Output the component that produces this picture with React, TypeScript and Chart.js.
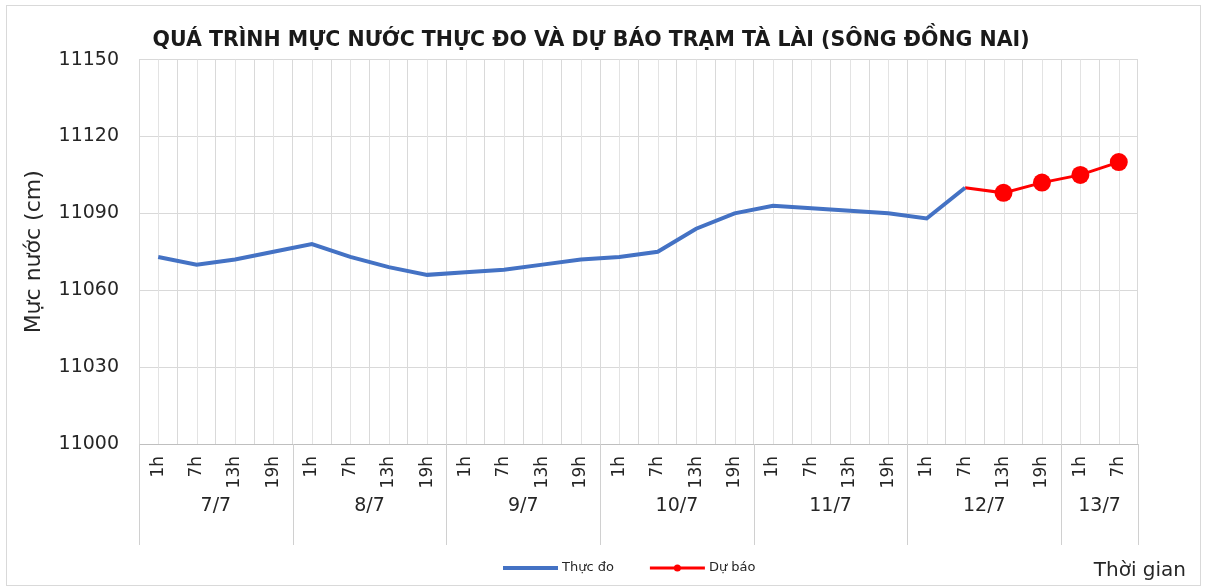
import React, { useEffect, useRef } from "react";
import { Chart, registerables } from "chart.js";
Chart.register(...registerables);

const TITLE = "QUÁ TRÌNH MỰC NƯỚC THỰC ĐO VÀ DỰ BÁO TRẠM TÀ LÀI (SÔNG ĐỒNG NAI)";
const Y_TITLE = "Mực nước (cm)";
const X_TITLE = "Thời gian";

const hourLabels = [
  "1h", "7h", "13h", "19h",
  "1h", "7h", "13h", "19h",
  "1h", "7h", "13h", "19h",
  "1h", "7h", "13h", "19h",
  "1h", "7h", "13h", "19h",
  "1h", "7h", "13h", "19h",
  "1h", "7h",
];
const dayLabels = ["7/7", "8/7", "9/7", "10/7", "11/7", "12/7", "13/7"];
const daySpans = [4, 4, 4, 4, 4, 4, 2];

const observed = [
  11073, 11070, 11072, 11075,
  11078, 11073, 11069, 11066,
  11067, 11068, 11070, 11072,
  11073, 11075, 11084, 11090,
  11093, 11092, 11091, 11090,
  11088, 11100, null, null,
  null, null,
];
const forecast = [
  null, null, null, null,
  null, null, null, null,
  null, null, null, null,
  null, null, null, null,
  null, null, null, null,
  null, 11100, 11098, 11102,
  11105, 11110,
];

const Y_MIN = 11000;
const Y_MAX = 11150;
const Y_STEP = 30;

const FONT = "'DejaVu Sans', sans-serif";
const TEXT = "#262626";

const midGridPlugin = {
  id: "midGrid",
  beforeDatasetsDraw(chart: any) {
    const ctx = chart.ctx;
    const x = chart.scales.x;
    const { top, bottom } = chart.chartArea;
    ctx.save();
    ctx.strokeStyle = "#e3e3e3";
    ctx.lineWidth = 1;
    hourLabels.forEach((_, i) => {
      const px = Math.round(x.getPixelForValue(i)) + 0.5;
      ctx.beginPath();
      ctx.moveTo(px, top);
      ctx.lineTo(px, bottom);
      ctx.stroke();
    });
    ctx.restore();
  },
};

const groupPlugin = {
  id: "groupLabels",
  afterDraw(chart: any) {
    const ctx = chart.ctx;
    const x = chart.scales.x;
    const w = x.getPixelForValue(1) - x.getPixelForValue(0);
    const edge = (k: number) => x.getPixelForValue(0) + (k - 0.5) * w;
    const top = x.top;
    ctx.save();
    // outer frame
    ctx.strokeStyle = "#d9d9d9";
    ctx.lineWidth = 1;
    ctx.strokeRect(6.5, 5.5, 1194, 580);

    ctx.strokeStyle = "#d0d0d0";
    let k = 0;
    const bounds = [0];
    daySpans.forEach((n) => {
      k += n;
      bounds.push(k);
    });
    bounds.forEach((b) => {
      const px = Math.round(edge(b)) + 0.5;
      ctx.beginPath();
      ctx.moveTo(px, top);
      ctx.lineTo(px, top + 101);
      ctx.stroke();
    });
    ctx.fillStyle = TEXT;
    ctx.font = `19px ${FONT}`;
    ctx.textAlign = "center";
    ctx.textBaseline = "middle";
    dayLabels.forEach((lab, i) => {
      const cx = (edge(bounds[i]) + edge(bounds[i + 1])) / 2;
      ctx.fillText(lab, cx, top + 62);
    });

    // legend
    const ly = 568;
    let lx = 503;
    ctx.font = `13px ${FONT}`;
    ctx.textAlign = "left";
    chart.data.datasets.forEach((ds: any) => {
      ctx.strokeStyle = ds.borderColor;
      ctx.lineWidth = ds.borderWidth;
      ctx.beginPath();
      ctx.moveTo(lx, ly);
      ctx.lineTo(lx + 55, ly);
      ctx.stroke();
      if (ds.legendMarker) {
        ctx.fillStyle = ds.borderColor;
        ctx.beginPath();
        ctx.arc(lx + 27.5, ly, 3.5, 0, Math.PI * 2);
        ctx.fill();
      }
      ctx.fillStyle = TEXT;
      ctx.fillText(ds.label, lx + 59, ly);
      lx += 59 + ctx.measureText(ds.label).width + 36;
    });

    ctx.font = `20px ${FONT}`;
    ctx.textAlign = "right";
    ctx.fillStyle = TEXT;
    ctx.fillText(X_TITLE, 1186, 571);
    ctx.restore();
  },
};

export default function App() {
  const ref = useRef<HTMLCanvasElement>(null);
  useEffect(() => {
    if (!ref.current) return;
    const firstF = forecast.findIndex((v) => v !== null);
    const chart = new Chart(ref.current, {
      type: "line",
      data: {
        labels: hourLabels,
        datasets: [
          {
            label: "Thực đo",
            data: observed,
            borderColor: "#4472C4",
            backgroundColor: "#4472C4",
            borderWidth: 4,
            pointRadius: 0,
            spanGaps: false,
            tension: 0,
          } as any,
          {
            label: "Dự báo",
            data: forecast,
            borderColor: "#FF0000",
            backgroundColor: "#FF0000",
            borderWidth: 3,
            pointRadius: forecast.map((_, i) => (i === firstF ? 0 : 9)),
            pointBorderWidth: 0,
            tension: 0,
            legendMarker: true,
          } as any,
        ],
      },
      options: {
        responsive: false,
        animation: false,
        events: [],
        layout: { padding: { left: 44, right: 70, top: 0, bottom: 0 } },
        plugins: {
          legend: { display: false },
          tooltip: { enabled: false },
          title: {
            display: true,
            text: TITLE,
            color: "#1a1a1a",
            font: { family: FONT, size: 20.5, weight: "bold" },
            padding: { top: 28, bottom: 7 },
          },
        },
        scales: {
          x: {
            type: "category",
            offset: true,
            grid: { offset: true, color: "#d9d9d9", drawTicks: false },
            border: { color: "#bfbfbf" },
            ticks: {
              autoSkip: false,
              minRotation: 90,
              maxRotation: 90,
              padding: 12,
              color: TEXT,
              font: { family: FONT, size: 17 },
            },
            afterFit: (s: any) => {
              s.height = 143;
            },
          },
          y: {
            min: Y_MIN,
            max: Y_MAX,
            ticks: {
              stepSize: Y_STEP,
              padding: 20,
              color: TEXT,
              font: { family: FONT, size: 19 },
              callback: (v: any) => String(v),
            },
            grid: { color: "#d9d9d9", drawTicks: false },
            border: { display: false },
            title: {
              display: true,
              text: Y_TITLE,
              color: TEXT,
              font: { family: FONT, size: 22 },
              padding: { top: -23, bottom: 0 },
            },
            afterFit: (s: any) => {
              s.width = 95;
            },
          },
        },
      } as any,
      plugins: [midGridPlugin, groupPlugin],
    });
    return () => chart.destroy();
  }, []);
  return (
    <div style={{ position: "fixed", left: 0, top: 0, width: 1208, height: 587, background: "#fff" }}>
      <canvas ref={ref} width={1208} height={587} />
    </div>
  );
}
